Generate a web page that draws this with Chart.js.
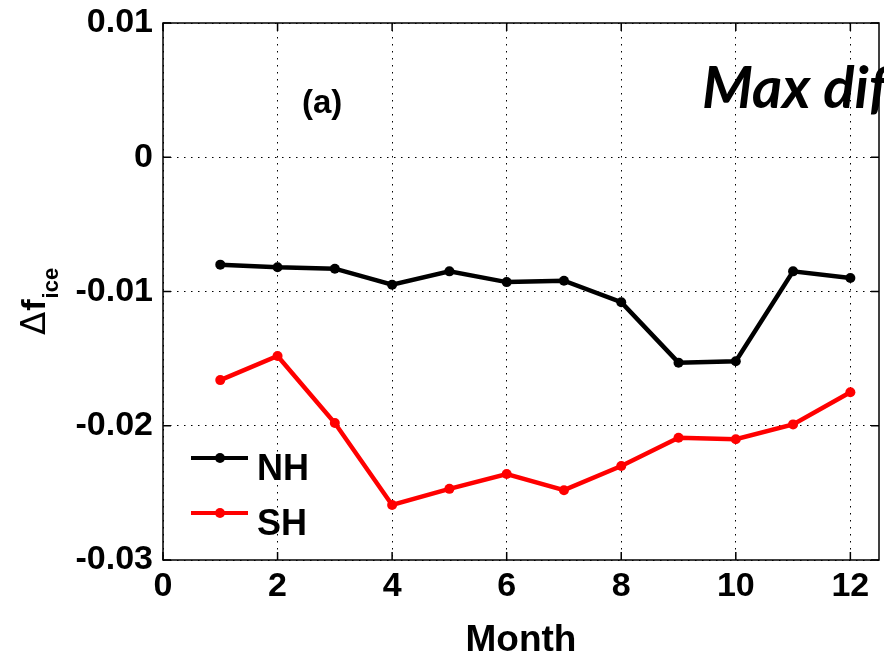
<!DOCTYPE html>
<html>
<head>
<meta charset="utf-8">
<script src="https://cdn.jsdelivr.net/npm/chart.js@4/dist/chart.umd.min.js"></script>
<style>
  html, body { margin: 0; padding: 0; background: #fff; }
  canvas { display: block; }
</style>
</head>
<body>
<canvas id="iceChart" width="884" height="663"></canvas>
<script>
// Monthly sea-ice fraction change, both hemispheres
const months = [1, 2, 3, 4, 5, 6, 7, 8, 9, 10, 11, 12];
const nhValues = [-0.0080, -0.0082, -0.0083, -0.0095, -0.0085, -0.0093, -0.0092, -0.0108, -0.0153, -0.0152, -0.0085, -0.0090];
const shValues = [-0.0166, -0.0148, -0.0198, -0.0259, -0.0247, -0.0236, -0.0248, -0.0230, -0.0209, -0.0210, -0.0199, -0.0175];
const xTickValues = [0, 2, 4, 6, 8, 10, 12];
const yTickValues = [0.01, 0, -0.01, -0.02, -0.03];

const FONT = "'Liberation Sans', Arial, Helvetica, sans-serif";

function toPoints(values) {
    return months.map((m, i) => ({ x: m, y: values[i] }));
}

// Box, inward tick marks, legend and the free text labels
const framePlugin = {
    id: 'frame',
    afterDraw(chart) {
        const ctx = chart.ctx;
        const area = chart.chartArea;
        const xs = chart.scales.x;
        const ys = chart.scales.y;
        ctx.save();

        // axes box
        ctx.strokeStyle = '#000';
        ctx.lineWidth = 1.5;
        ctx.strokeRect(area.left, area.top, area.right - area.left, area.bottom - area.top);

        // tick marks pointing into the plot
        const tickLen = 8;
        ctx.beginPath();
        xTickValues.forEach(v => {
            const px = xs.getPixelForValue(v);
            ctx.moveTo(px, area.bottom); ctx.lineTo(px, area.bottom - tickLen);
            ctx.moveTo(px, area.top); ctx.lineTo(px, area.top + tickLen);
        });
        yTickValues.forEach(v => {
            const py = ys.getPixelForValue(v);
            ctx.moveTo(area.left, py); ctx.lineTo(area.left + tickLen, py);
            ctx.moveTo(area.right, py); ctx.lineTo(area.right - tickLen, py);
        });
        ctx.stroke();

        // legend, inside the lower left corner
        const legendRows = [458, 513];
        chart.data.datasets.forEach((ds, i) => {
            const y = legendRows[i];
            ctx.strokeStyle = ds.borderColor;
            ctx.fillStyle = ds.borderColor;
            ctx.lineWidth = 4;
            ctx.beginPath();
            ctx.moveTo(191, y); ctx.lineTo(248, y);
            ctx.stroke();
            ctx.beginPath();
            ctx.arc(220, y, 5, 0, Math.PI * 2);
            ctx.fill();
            ctx.fillStyle = '#000';
            ctx.font = 'bold 36px ' + FONT;
            ctx.textAlign = 'left';
            ctx.textBaseline = 'alphabetic';
            ctx.fillText(ds.label, 257, y + 22);
        });

        // panel label
        ctx.fillStyle = '#000';
        ctx.font = 'bold 33px ' + FONT;
        ctx.textAlign = 'left';
        ctx.textBaseline = 'alphabetic';
        ctx.fillText('(a)', 302, 113);

        // overlaid heading
        ctx.font = 'italic bold 58px Lato, "Open Sans", sans-serif';
        ctx.fillText('Max diff', 702, 108);

        // y axis title: delta f with subscript "ice"
        ctx.translate(45, 335);
        ctx.rotate(-Math.PI / 2);
        ctx.font = '34px "DejaVu Sans", ' + FONT;
        ctx.fillText('\u0394', 0, 0);
        let w = ctx.measureText('\u0394').width;
        ctx.font = 'bold 34px ' + FONT;
        ctx.fillText('f', w + 1, 0);
        w += ctx.measureText('f').width + 2;
        ctx.font = 'bold 22px ' + FONT;
        ctx.fillText('ice', w, 13);

        ctx.restore();
    }
};

const ctx = document.getElementById('iceChart').getContext('2d');
const chart = new Chart(ctx, {
    type: 'line',
    data: {
        datasets: [
            {
                label: 'NH',
                data: toPoints(nhValues),
                borderColor: '#000000',
                backgroundColor: '#000000',
                borderWidth: 4.5,
                pointRadius: 5,
                pointBorderWidth: 0,
                pointBackgroundColor: '#000000',
                tension: 0
            },
            {
                label: 'SH',
                data: toPoints(shValues),
                borderColor: '#ff0000',
                backgroundColor: '#ff0000',
                borderWidth: 4.5,
                pointRadius: 5,
                pointBorderWidth: 0,
                pointBackgroundColor: '#ff0000',
                tension: 0
            }
        ]
    },
    options: {
        responsive: false,
        animation: false,
        layout: {
            padding: { top: 23, right: 2, left: 0, bottom: 0 }
        },
        plugins: {
            legend: { display: false },
            tooltip: { enabled: false }
        },
        scales: {
            x: {
                type: 'linear',
                min: 0,
                max: 12.5,
                afterBuildTicks: scale => {
                    scale.ticks = xTickValues.map(v => ({ value: v }));
                },
                afterFit: scale => {
                    scale.height = 103;
                    scale.paddingLeft = 0;
                    scale.paddingRight = 0;
                },
                grid: {
                    color: '#000',
                    lineWidth: 1,
                    drawTicks: false
                },
                border: { display: false, dash: [1.5, 5.5] },
                ticks: {
                    color: '#000',
                    font: { family: FONT, size: 34, weight: 'bold' },
                    padding: 6,
                    maxRotation: 0
                },
                title: {
                    display: true,
                    text: 'Month',
                    color: '#000',
                    font: { family: FONT, size: 37, weight: 'bold' },
                    padding: { top: 0, bottom: 0 }
                }
            },
            y: {
                type: 'linear',
                min: -0.03,
                max: 0.01,
                afterBuildTicks: scale => {
                    scale.ticks = yTickValues.slice().reverse().map(v => ({ value: v }));
                },
                afterFit: scale => {
                    scale.width = 163;
                    scale.paddingTop = 0;
                    scale.paddingBottom = 0;
                },
                grid: {
                    color: '#000',
                    lineWidth: 1,
                    drawTicks: false
                },
                border: { display: false, dash: [1.5, 5.5] },
                ticks: {
                    color: '#000',
                    font: { family: FONT, size: 34, weight: 'bold' },
                    padding: 10,
                    callback: v => (Math.abs(v) < 1e-9 ? '0' : v.toFixed(2))
                }
            }
        }
    },
    plugins: [framePlugin]
});
</script>
</body>
</html>
